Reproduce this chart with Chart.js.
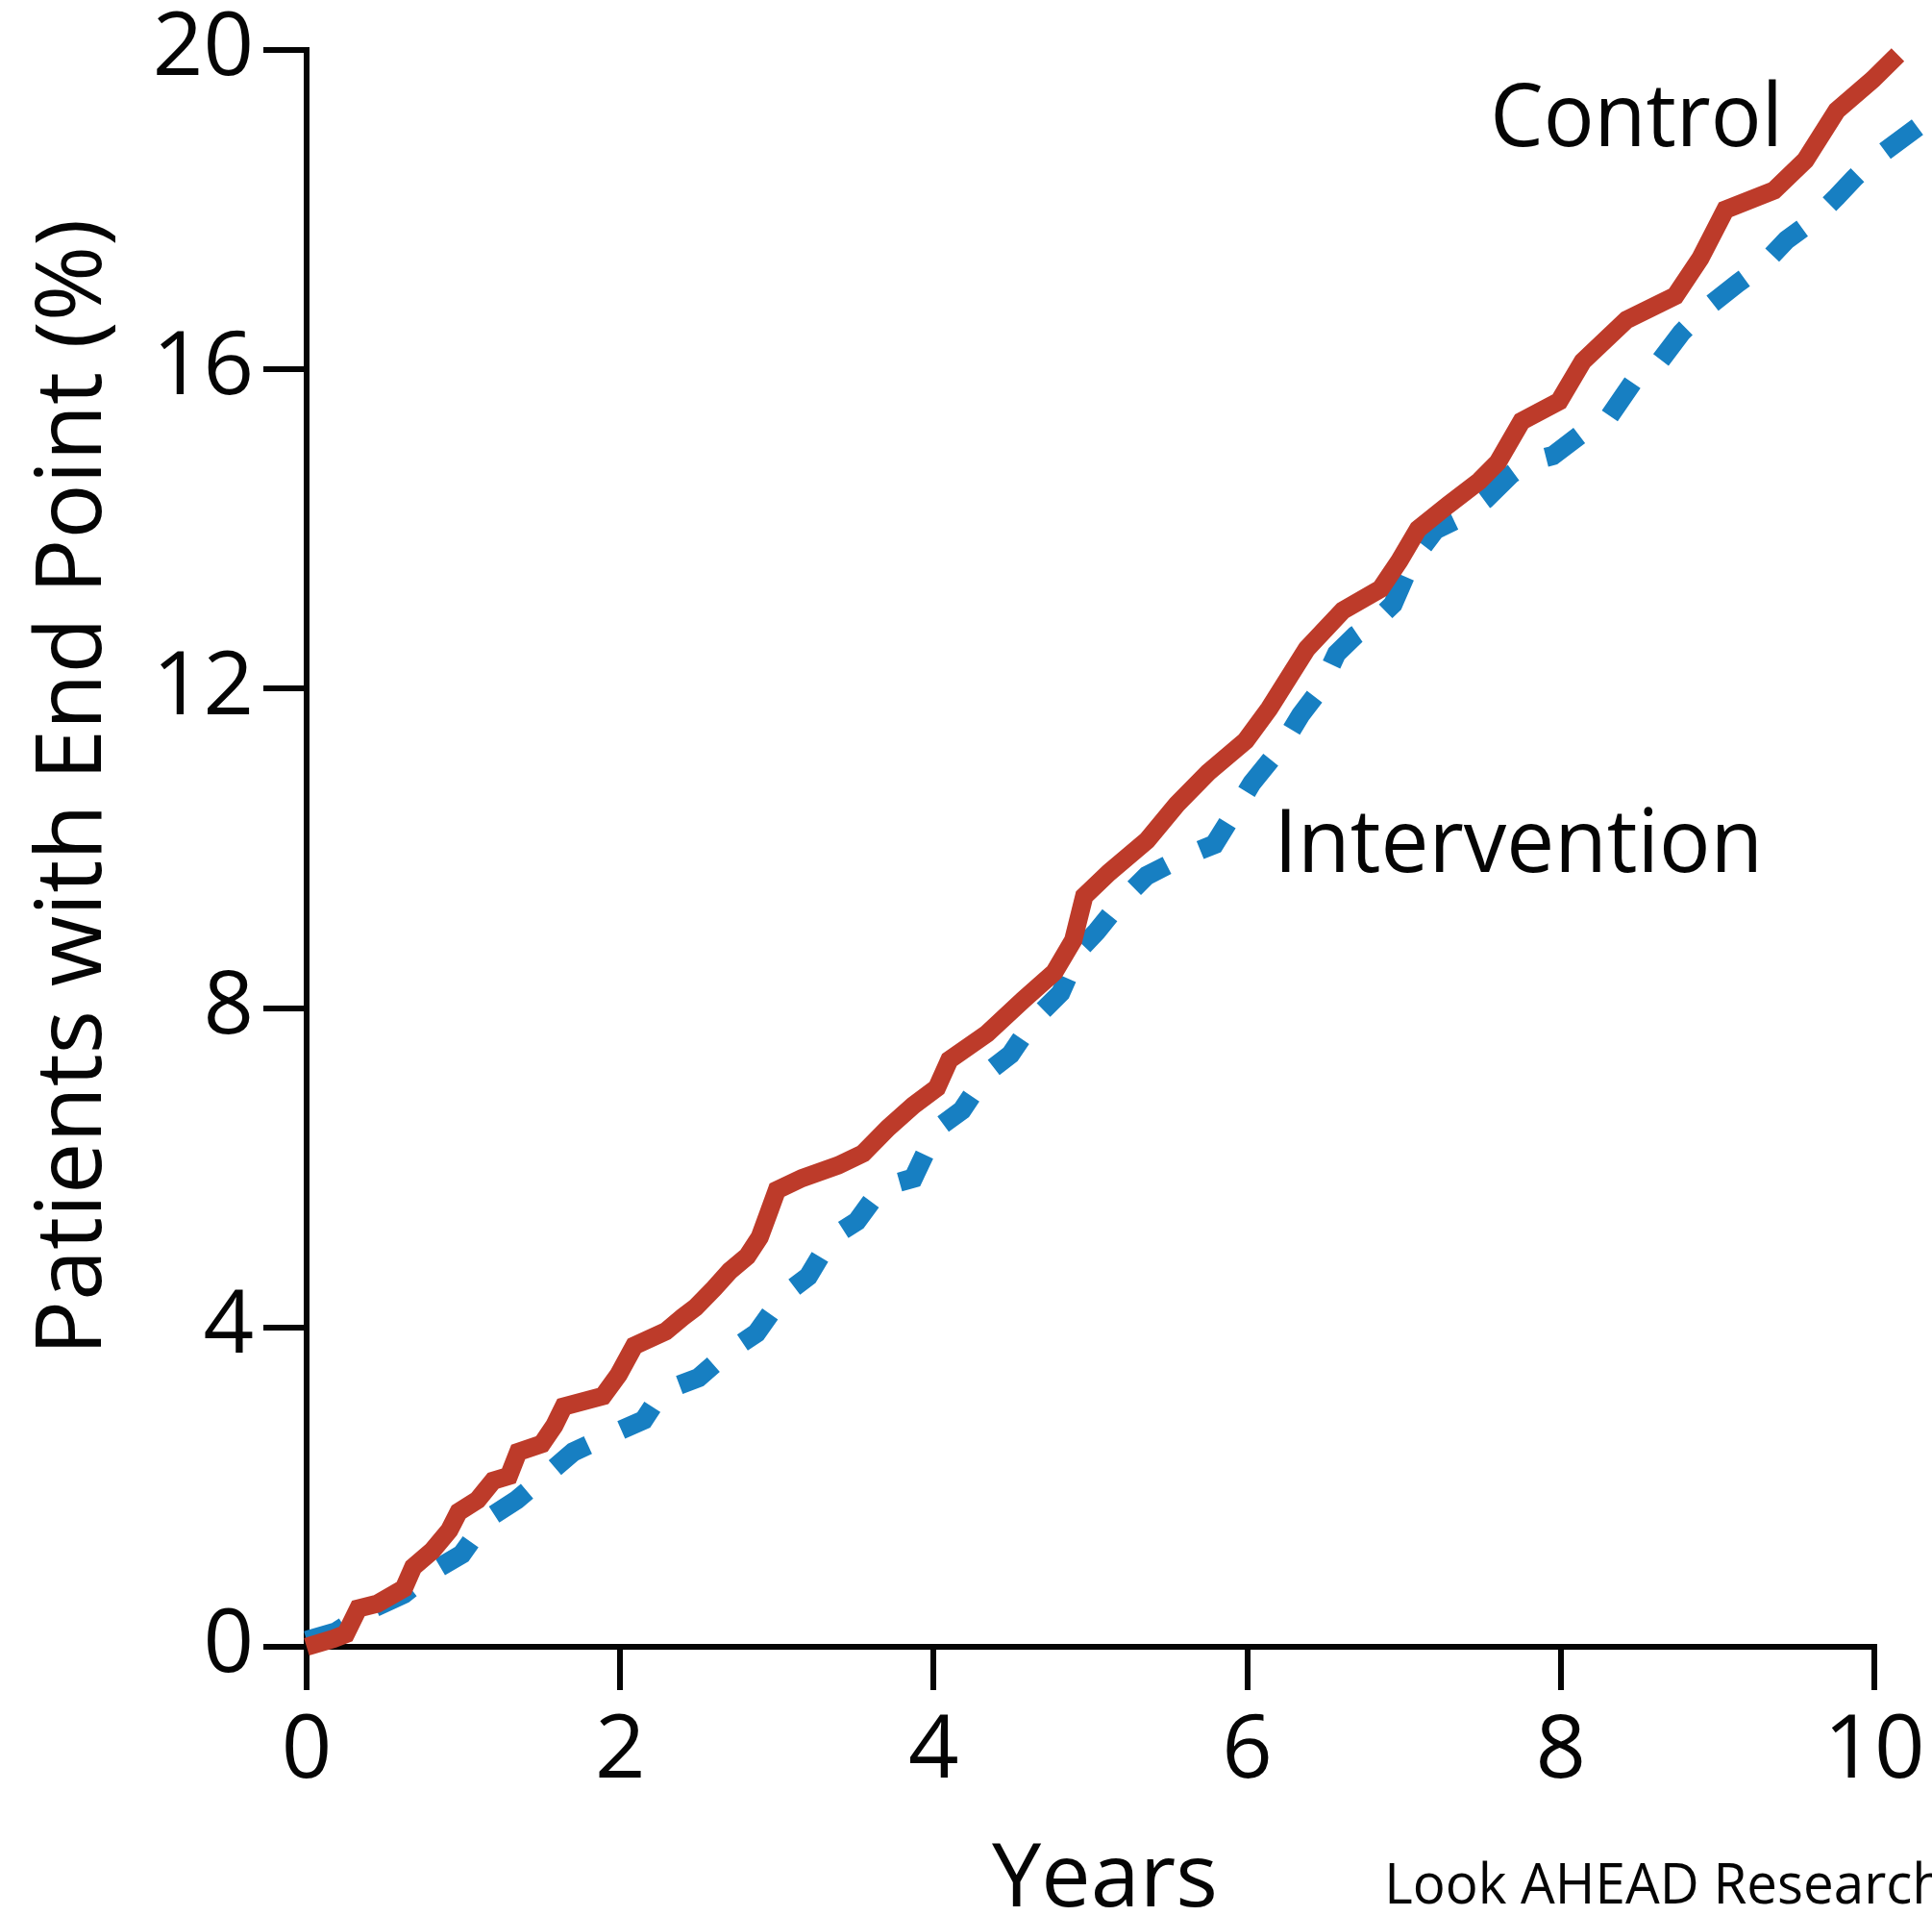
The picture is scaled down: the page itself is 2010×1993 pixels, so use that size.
<!DOCTYPE html>
<html>
<head>
<meta charset="utf-8">
<script src="https://cdn.jsdelivr.net/npm/chart.js@4.4.0/dist/chart.umd.min.js"></script>
<style>
  html, body { margin: 0; padding: 0; background: #fff; }
  #chart { display: block; }
</style>
</head>
<body>
<canvas id="chart" width="2010" height="1993"></canvas>
<script>
// cumulative incidence (%)
const controlYears = [0, 0.17, 0.25, 0.33, 0.45, 0.62, 0.68, 0.80, 0.91, 0.97, 1.09, 1.19, 1.29, 1.35, 1.50, 1.58, 1.64, 1.89, 1.99, 2.09,
  2.29, 2.40, 2.48, 2.60, 2.70, 2.81, 2.89, 2.95, 3.00, 3.16, 3.39, 3.55, 3.71, 3.87, 4.02, 4.10, 4.34, 4.57, 4.77, 4.89,
  4.96, 5.12, 5.36, 5.55, 5.75, 5.99, 6.14, 6.38, 6.61, 6.85, 6.97, 7.09, 7.28, 7.48, 7.60, 7.75, 7.99, 8.14, 8.42, 8.73,
  8.89, 9.05, 9.36, 9.56, 9.76, 9.99, 10.15];
const controlPct = [0, 0.10, 0.16, 0.48, 0.54, 0.73, 1.00, 1.20, 1.46, 1.69, 1.84, 2.08, 2.14, 2.44, 2.54, 2.77, 3.01, 3.14, 3.41, 3.77,
  3.95, 4.13, 4.25, 4.49, 4.71, 4.89, 5.13, 5.45, 5.72, 5.87, 6.03, 6.18, 6.50, 6.78, 7.00, 7.35, 7.68, 8.10, 8.45, 8.85,
  9.40, 9.70, 10.10, 10.55, 10.95, 11.35, 11.75, 12.50, 12.98, 13.25, 13.60, 14.00, 14.30, 14.60, 14.84, 15.35, 15.60, 16.10, 16.62, 16.92,
  17.39, 18.00, 18.24, 18.62, 19.24, 19.63, 19.94];

const interventionYears = [0, 0.19, 0.42, 0.62, 0.80, 0.99, 1.15, 1.34, 1.54, 1.70, 1.93, 2.15, 2.27, 2.50, 2.68, 2.87, 3.04, 3.20, 3.35, 3.51,
  3.67, 3.87, 4.02, 4.18, 4.34, 4.49, 4.65, 4.81, 4.93, 5.04, 5.20, 5.36, 5.59, 5.79, 5.91, 6.03, 6.22, 6.34, 6.46, 6.57,
  6.69, 6.81, 6.93, 7.05, 7.20, 7.36, 7.52, 7.68, 7.79, 7.95, 8.15, 8.30, 8.46, 8.62, 8.77, 8.93, 9.13, 9.29, 9.44, 9.60,
  9.76, 9.87, 9.99, 10.37];
const interventionPct = [0.08, 0.19, 0.48, 0.66, 0.94, 1.16, 1.60, 1.84, 2.17, 2.44, 2.65, 2.84, 3.20, 3.37, 3.68, 3.93, 4.40, 4.64, 5.13, 5.33,
  5.76, 5.87, 6.49, 6.72, 7.19, 7.42, 7.88, 8.19, 8.73, 8.96, 9.35, 9.66, 9.89, 10.05, 10.43, 10.82, 11.28, 11.67, 11.98, 12.44,
  12.67, 12.83, 13.06, 13.60, 13.99, 14.14, 14.37, 14.68, 14.84, 14.92, 15.22, 15.38, 15.84, 16.07, 16.46, 16.77, 17.08, 17.31, 17.62, 17.85,
  18.16, 18.39, 18.62, 19.17];

const xTicks = [0, 2, 4, 6, 8, 10];
const yTicks = [0, 4, 8, 12, 16, 20];

const INK = '#050505';
const FONT = '"Open Sans", "Noto Sans", sans-serif';

function toPoints(xs, ys) {
  return xs.map((x, i) => ({ x: x, y: ys[i] }));
}

// draws text so its ink spans exactly `width` px starting at `left`
function drawFitted(ctx, text, left, baseline, width, size) {
  ctx.save();
  ctx.font = size + 'px ' + FONT;
  ctx.textAlign = 'left';
  ctx.textBaseline = 'alphabetic';
  const m = ctx.measureText(text);
  const ink = m.actualBoundingBoxLeft + m.actualBoundingBoxRight;
  ctx.translate(left, baseline);
  ctx.scale(width / ink, 1);
  ctx.fillText(text, m.actualBoundingBoxLeft, 0);
  ctx.restore();
}

const textPlugin = {
  id: 'textPlugin',
  afterDraw(chart) {
    const ctx = chart.ctx;
    ctx.save();
    ctx.fillStyle = INK;
    drawFitted(ctx, 'Control', 1555, 152, 293, 92);
    drawFitted(ctx, 'Intervention', 1333, 907, 494, 92);
    drawFitted(ctx, 'Years', 1032, 1983, 231, 92);
    drawFitted(ctx, 'Look AHEAD Research', 1445, 1980, 575, 59);
    ctx.translate(105, 816);
    ctx.rotate(-Math.PI / 2);
    drawFitted(ctx, 'Patients with End Point (%)', -585, 0, 1170, 96);
    ctx.restore();
  }
};

const axisStyle = {
  grid: { display: true, drawOnChartArea: false, drawTicks: true, tickLength: 45, lineWidth: 6, tickWidth: 6, tickColor: INK, color: INK },
  border: { display: true, color: INK, width: 6 }
};

new Chart(document.getElementById('chart'), {
  type: 'line',
  data: {
    datasets: [
      {
        label: 'Control',
        data: toPoints(controlYears, controlPct),
        borderColor: '#bd3b2a',
        borderWidth: 19,
        pointRadius: 0,
        tension: 0,
        clip: false
      },
      {
        label: 'Intervention',
        data: toPoints(interventionYears, interventionPct),
        borderColor: '#177fc2',
        borderWidth: 20,
        borderDash: [42, 38],
        pointRadius: 0,
        tension: 0,
        clip: false
      }
    ]
  },
  options: {
    responsive: false,
    animation: false,
    devicePixelRatio: 1,
    layout: { padding: { left: 0, top: 52, right: 60, bottom: 0 } },
    plugins: { legend: { display: false }, tooltip: { enabled: false } },
    scales: {
      x: {
        type: 'linear',
        min: 0,
        max: 10,
        afterBuildTicks: s => { s.ticks = xTicks.map(v => ({ value: v })); },
        afterFit: s => { s.height = 280; s.paddingLeft = 0; s.paddingRight = 0; },
        ...axisStyle,
        ticks: { color: INK, font: { size: 92, family: FONT }, padding: 10, maxRotation: 0, autoSkip: false }
      },
      y: {
        type: 'linear',
        min: 0,
        max: 20,
        afterBuildTicks: s => { s.ticks = yTicks.map(v => ({ value: v })); },
        afterFit: s => { s.width = 319; s.paddingTop = 0; s.paddingBottom = 0; },
        ...axisStyle,
        ticks: { color: INK, font: { size: 92, family: FONT }, padding: 10, autoSkip: false }
      }
    }
  },
  plugins: [textPlugin]
});
</script>
</body>
</html>
